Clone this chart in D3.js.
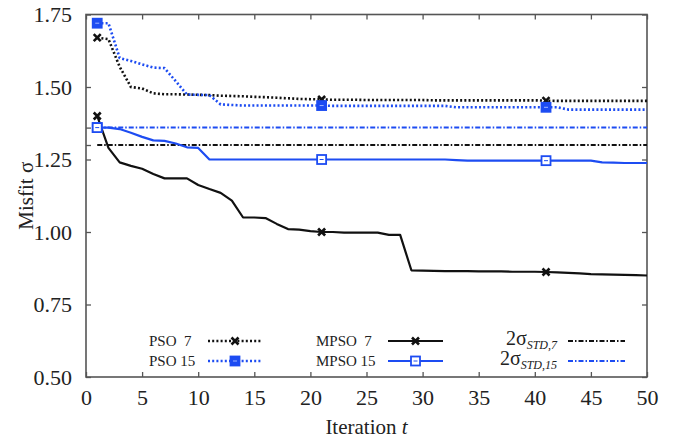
<!DOCTYPE html>
<html>
<head>
<meta charset="utf-8">
<script src="https://cdn.jsdelivr.net/npm/d3@7"></script>
<style>
  body { margin: 0; background: #fff; }
  svg, svg text { font-family: "Liberation Serif", "DejaVu Serif", serif; }
</style>
</head>
<body>
<div id="chart"></div>
<script>
// iterations 1..50
const iterations = d3.range(1, 51);

// misfit per iteration
const pso7 = [1.670, 1.665, 1.570, 1.500, 1.495, 1.478, 1.475, 1.475, 1.474, 1.473,
              1.472, 1.470, 1.469, 1.468, 1.466, 1.465, 1.463, 1.461, 1.459, 1.458,
              1.457, 1.456, 1.456, 1.456, 1.455, 1.455, 1.455, 1.455, 1.455, 1.455,
              1.454, 1.454, 1.454, 1.454, 1.454, 1.454, 1.454, 1.454, 1.454, 1.454,
              1.453, 1.452, 1.452, 1.452, 1.452, 1.452, 1.452, 1.452, 1.452, 1.452];
const pso15 = [1.720, 1.720, 1.600, 1.590, 1.578, 1.567, 1.565, 1.520, 1.474, 1.473,
               1.472, 1.440, 1.438, 1.436, 1.436, 1.436, 1.436, 1.436, 1.436, 1.436,
               1.436, 1.435, 1.435, 1.435, 1.435, 1.435, 1.435, 1.435, 1.435, 1.435,
               1.435, 1.435, 1.430, 1.430, 1.430, 1.430, 1.430, 1.430, 1.430, 1.430,
               1.430, 1.430, 1.422, 1.422, 1.422, 1.422, 1.422, 1.422, 1.422, 1.422];
const mpso7 = [1.400, 1.290, 1.240, 1.228, 1.218, 1.200, 1.185, 1.185, 1.185, 1.162,
               1.148, 1.135, 1.108, 1.050, 1.050, 1.048, 1.028, 1.010, 1.008, 1.003,
               1.000, 1.000, 0.998, 0.998, 0.998, 0.998, 0.990, 0.990, 0.868, 0.867,
               0.866, 0.865, 0.865, 0.865, 0.864, 0.864, 0.864, 0.863, 0.863, 0.863,
               0.862, 0.861, 0.859, 0.857, 0.855, 0.854, 0.853, 0.852, 0.851, 0.850];
const mpso15 = [1.360, 1.360, 1.355, 1.342, 1.328, 1.316, 1.314, 1.305, 1.292, 1.290,
                1.250, 1.250, 1.250, 1.250, 1.250, 1.250, 1.250, 1.250, 1.250, 1.250,
                1.250, 1.250, 1.250, 1.250, 1.250, 1.250, 1.250, 1.250, 1.250, 1.250,
                1.250, 1.250, 1.248, 1.246, 1.246, 1.246, 1.246, 1.246, 1.246, 1.246,
                1.246, 1.246, 1.246, 1.246, 1.246, 1.240, 1.239, 1.238, 1.238, 1.238];

// reference levels 2*sigma_STD
const std7 = 1.30;
const std15 = 1.36;

const markerIters = [1, 21, 41];
const xTicks = d3.range(0, 51, 5);
const yTicks = [0.50, 0.75, 1.00, 1.25, 1.50, 1.75];
const yExtraTicks = [std7, std15];

const width = 683, height = 443;
const margin = { top: 14.5, right: 36, bottom: 66, left: 86 };
const blue = "#1d4cf2", black = "#111";
const serif = "'Liberation Serif', 'DejaVu Serif', serif";

const svg = d3.select("#chart").append("svg")
    .attr("width", width)
    .attr("height", height);

const x = d3.scaleLinear().domain([0, 50]).range([margin.left, width - margin.right]);
const y = d3.scaleLinear().domain([0.5, 1.75]).range([height - margin.bottom, margin.top]);

// frame and ticks
const axisColor = "#555";
const tickLen = 5;
const g = svg.append("g");

g.append("g")
    .attr("transform", `translate(0,${y(0.5)})`)
    .call(d3.axisBottom(x).tickValues(xTicks).tickSize(-tickLen).tickPadding(12).tickFormat(d3.format("d")))
    .call(a => a.select(".domain").remove());
g.append("g")
    .attr("transform", `translate(0,${y(1.75)})`)
    .call(d3.axisTop(x).tickValues(xTicks).tickSize(-tickLen).tickFormat(""))
    .call(a => a.select(".domain").remove());
g.append("g")
    .attr("transform", `translate(${x(0)},0)`)
    .call(d3.axisLeft(y).tickValues(yTicks).tickSize(-tickLen).tickPadding(14).tickFormat(d3.format(".2f")))
    .call(a => a.select(".domain").remove());
g.append("g")
    .attr("transform", `translate(${x(0)},0)`)
    .call(d3.axisLeft(y).tickValues(yExtraTicks).tickSize(-tickLen).tickFormat(""))
    .call(a => a.select(".domain").remove());
g.append("g")
    .attr("transform", `translate(${x(50)},0)`)
    .call(d3.axisRight(y).tickValues(yTicks).tickSize(-tickLen).tickFormat(""))
    .call(a => a.select(".domain").remove());

g.selectAll("g").attr("font-family", serif).attr("font-size", 22);
g.selectAll(".tick line").attr("stroke", axisColor).attr("stroke-width", 1.3);
g.selectAll(".tick text").attr("fill", "#222");

svg.append("rect")
    .attr("x", x(0)).attr("y", y(1.75))
    .attr("width", x(50) - x(0)).attr("height", y(0.5) - y(1.75))
    .attr("fill", "none").attr("stroke", axisColor).attr("stroke-width", 1.6);

// axis titles
svg.append("text")
    .attr("x", (x(0) + x(50)) / 2).attr("y", 434)
    .attr("text-anchor", "middle")
    .attr("font-family", serif).attr("font-size", 21).attr("fill", "#222")
    .html('Iteration <tspan font-style="italic">t</tspan>');
svg.append("text")
    .attr("transform", `translate(33,${(y(0.5) + y(1.75)) / 2}) rotate(-90)`)
    .attr("text-anchor", "middle")
    .attr("font-family", serif).attr("font-size", 21).attr("fill", "#222")
    .text("Misfit σ");

const dotted = "2,2.2";
const dashDot = "5,2,1.5,2";

const series = [
    { name: "PSO 7", values: pso7, color: black, dash: dotted, width: 2.6, marker: "x" },
    { name: "PSO 15", values: pso15, color: blue, dash: dotted, width: 2.6, marker: "boxFill" },
    { name: "MPSO 7", values: mpso7, color: black, dash: null, width: 2.2, marker: "x" },
    { name: "MPSO 15", values: mpso15, color: blue, dash: null, width: 2.2, marker: "box" }
];

const plot = svg.append("g");

// reference lines
[{ v: std7, color: black }, { v: std15, color: blue }].forEach(r => {
    plot.append("line")
        .attr("x1", x(1)).attr("x2", x(50))
        .attr("y1", y(r.v)).attr("y2", y(r.v))
        .attr("stroke", r.color).attr("stroke-width", 2)
        .attr("stroke-dasharray", dashDot);
});

const line = d3.line()
    .x((d, i) => x(iterations[i]))
    .y(d => y(d));

function drawMarker(sel, type, color, cx, cy) {
    if (type === "x") {
        const s = 3.5;
        sel.append("path")
            .attr("d", `M${cx - s},${cy - s}L${cx + s},${cy + s}M${cx - s},${cy + s}L${cx + s},${cy - s}`)
            .attr("stroke", color).attr("stroke-width", 2.6).attr("fill", "none");
    } else {
        const s = 4.5;
        sel.append("rect")
            .attr("x", cx - s).attr("y", cy - s)
            .attr("width", 2 * s).attr("height", 2 * s)
            .attr("fill", type === "boxFill" ? color : "#fff")
            .attr("stroke", color).attr("stroke-width", 1.8);
        sel.append("line")
            .attr("x1", cx - 2).attr("x2", cx + 2)
            .attr("y1", cy).attr("y2", cy)
            .attr("stroke", type === "boxFill" ? "#9fb4ff" : color).attr("stroke-width", 1);
    }
}

series.forEach(s => {
    plot.append("path")
        .datum(s.values)
        .attr("d", line)
        .attr("fill", "none")
        .attr("stroke", s.color)
        .attr("stroke-width", s.width)
        .attr("stroke-dasharray", s.dash)
        .attr("stroke-linejoin", "round");
});
series.forEach(s => {
    markerIters.forEach(t => {
        drawMarker(plot, s.marker, s.color, x(t), y(s.values[t - 1]));
    });
});
drawMarker(plot, "box", blue, x(1), y(std15));

// legend
const legend = svg.append("g").attr("font-family", serif).attr("font-size", 15).attr("fill", "#222");
const rows = [341, 361];
const cols = [
    { textStart: 149, l1: 208, l2: 262, items: [series[0], series[1]] },
    { textStart: 316, l1: 388, l2: 443, items: [series[2], series[3]] }
];
cols.forEach(c => {
    c.items.forEach((s, i) => {
        legend.append("text")
            .attr("x", c.textStart).attr("y", rows[i] + 5)
            .attr("xml:space", "preserve")
            .text(s.name.replace(/ (\d)$/, "  $1"));
        legend.append("line")
            .attr("x1", c.l1).attr("x2", c.l2)
            .attr("y1", rows[i]).attr("y2", rows[i])
            .attr("stroke", s.color).attr("stroke-width", s.width)
            .attr("stroke-dasharray", s.dash);
        drawMarker(legend, s.marker, s.color, (c.l1 + c.l2) / 2, rows[i]);
    });
});
[{ sub: "STD,7", color: black }, { sub: "STD,15", color: blue }].forEach((r, i) => {
    legend.append("text")
        .attr("x", 557).attr("y", rows[i] + 4)
        .attr("text-anchor", "end")
        .html(`<tspan font-size="20">2σ</tspan><tspan dy="4" font-style="italic" font-size="12">${r.sub}</tspan>`);
    legend.append("line")
        .attr("x1", 568).attr("x2", 625)
        .attr("y1", rows[i]).attr("y2", rows[i])
        .attr("stroke", r.color).attr("stroke-width", 2)
        .attr("stroke-dasharray", dashDot);
});
</script>
</body>
</html>
